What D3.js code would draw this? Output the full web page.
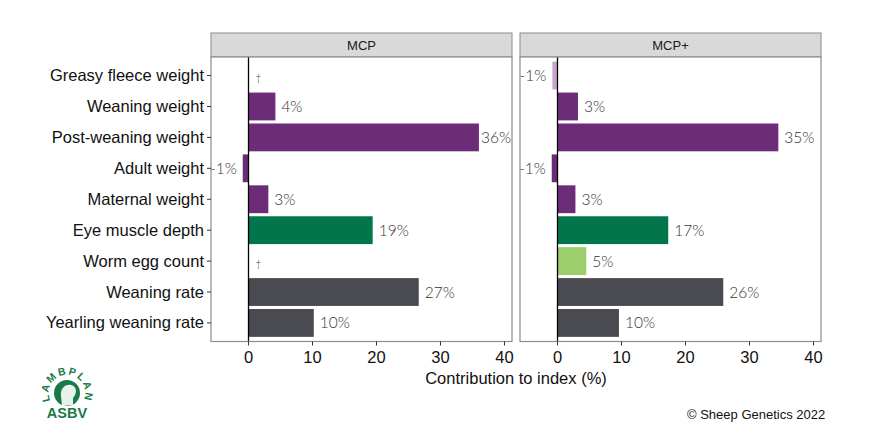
<!DOCTYPE html>
<html>
<head>
<meta charset="utf-8">
<script src="https://cdn.jsdelivr.net/npm/d3@7"></script>
<style>
  body { margin: 0; background: #fff; }
  text { font-family: "Liberation Sans", Arial, sans-serif; }
  .lab { font-family: Lato, sans-serif; font-weight: 300; }
</style>
</head>
<body>
<svg id="chart" width="887" height="448"></svg>
<script>
// chart data
const traits = ["Greasy fleece weight", "Weaning weight", "Post-weaning weight", "Adult weight",
  "Maternal weight", "Eye muscle depth", "Worm egg count", "Weaning rate", "Yearling weaning rate"]
const panels = ["MCP", "MCP+"]
const mcpValues = [0, 4.2, 36.0, -0.9, 3.1, 19.4, 0, 26.6, 10.2]
const mcpLabels = ["†", "4%", "36%", "-1%", "3%", "19%", "†", "27%", "10%"]
const mcpColors = ["#6d2c77", "#6d2c77", "#6d2c77", "#6d2c77", "#6d2c77", "#00764a", "#9ccf6b", "#4a4b50", "#4a4b50"]
const mcpPlusValues = [-0.8, 3.2, 34.5, -0.9, 2.8, 17.3, 4.5, 25.9, 9.6]
const mcpPlusLabels = ["-1%", "3%", "35%", "-1%", "3%", "17%", "5%", "26%", "10%"]
const mcpPlusColors = ["#c9a3c9", "#6d2c77", "#6d2c77", "#6d2c77", "#6d2c77", "#00764a", "#9ccf6b", "#4a4b50", "#4a4b50"]
const xTicks = [0, 10, 20, 30, 40]

const series = [
  {name: panels[0], values: mcpValues, labels: mcpLabels, colors: mcpColors},
  {name: panels[1], values: mcpPlusValues, labels: mcpPlusLabels, colors: mcpPlusColors}
]

const svg = d3.select("#chart")
const panelLeft = [211, 520]
const panelW = 301
const stripTop = 33, stripH = 24
const plotTop = stripTop + stripH, plotH = 284.5

let x = d3.scaleLinear().domain([-5.86, 41.17]).range([0, panelW])
// discrete axis with 0.6 step expansion each side (ggplot style)
let yIdx = d3.scaleLinear().domain([0.4, traits.length + 0.6]).range([0, plotH])
const yc = d => yIdx(traits.indexOf(d) + 1)
const step = yIdx(2) - yIdx(1)
const barH = step * 0.9

series.forEach((s, i) => {
  let g = svg.append("g").attr("transform", `translate(${panelLeft[i]},0)`)

  // strip
  g.append("rect").attr("x", 0).attr("y", stripTop).attr("width", panelW).attr("height", stripH)
    .attr("fill", "#d9d9d9").attr("stroke", "#8c8c8c").attr("stroke-width", 1)
  g.append("text").attr("x", panelW / 2).attr("y", stripTop + stripH / 2 + 4.5)
    .attr("text-anchor", "middle").attr("font-size", 13).attr("fill", "#1a1a1a").text(s.name)

  let p = g.append("g").attr("transform", `translate(0,${plotTop})`)
  p.append("rect").attr("width", panelW).attr("height", plotH).attr("fill", "#fff")

  // bars
  p.selectAll("rect.bar").data(traits).enter().append("rect").attr("class", "bar")
    .attr("x", (d, j) => x(Math.min(0, s.values[j])))
    .attr("width", (d, j) => Math.abs(x(s.values[j]) - x(0)))
    .attr("y", d => yc(d) - barH / 2)
    .attr("height", barH)
    .attr("fill", (d, j) => s.colors[j])

  // zero line
  p.append("line").attr("x1", x(0)).attr("x2", x(0)).attr("y1", 0).attr("y2", plotH)
    .attr("stroke", "#000").attr("stroke-width", 1.3)

  // value labels
  p.selectAll("text.lab").data(traits).enter().append("text").attr("class", "lab")
    .attr("x", (d, j) => s.labels[j] === "†" ? x(0) + 7 : s.values[j] < 0 ? x(s.values[j]) - 6 : x(s.values[j]) + 6)
    .attr("y", d => yc(d) + 5.5)
    .attr("text-anchor", (d, j) => s.values[j] < 0 ? "end" : "start")
    .attr("font-size", (d, j) => s.labels[j] === "†" ? 10 : 15.5)
    .attr("fill", "#333")
    .text((d, j) => s.labels[j])
    .each(function () {
      // keep labels inside the panel
      let bb = this.getBBox()
      if (bb.x + bb.width > panelW - 1) d3.select(this).attr("x", panelW - 1 - bb.width)
    })

  p.append("rect").attr("width", panelW).attr("height", plotH).attr("fill", "none")
    .attr("stroke", "#8c8c8c").attr("stroke-width", 1.2)

  // x axis
  let ax = p.append("g").attr("transform", `translate(0,${plotH})`)
  ax.selectAll("line").data(xTicks).enter().append("line")
    .attr("x1", d => x(d)).attr("x2", d => x(d)).attr("y1", 0).attr("y2", 4)
    .attr("stroke", "#333")
  ax.selectAll("text").data(xTicks).enter().append("text")
    .attr("x", d => x(d)).attr("y", 21).attr("text-anchor", "middle")
    .attr("font-size", 16.5).attr("fill", "#111").text(d => d)

  // y axis on first panel only
  if (i === 0) {
    let ay = p.append("g")
    ay.selectAll("line").data(traits).enter().append("line")
      .attr("x1", -4).attr("x2", 0).attr("y1", d => yc(d)).attr("y2", d => yc(d)).attr("stroke", "#333")
    ay.selectAll("text").data(traits).enter().append("text")
      .attr("x", -7).attr("y", d => yc(d) + 5.5).attr("text-anchor", "end")
      .attr("font-size", 16.5).attr("fill", "#111").text(d => d)
  }
})

// axis title
svg.append("text").attr("x", 516).attr("y", 384)
  .attr("text-anchor", "middle").attr("font-size", 16.5).attr("fill", "#111")
  .text("Contribution to index (%)")

// copyright
svg.append("text").attr("x", 687).attr("y", 419).attr("font-size", 13).attr("fill", "#111")
  .text("© Sheep Genetics 2022")

// LAMBPLAN ASBV logo
const green = "#1a7a47"
let logo = svg.append("g").attr("transform", "translate(67,393)")
logo.append("circle").attr("r", 13).attr("fill", green)
logo.append("path").attr("d", "M-5,13 L-6,3 C-7,-4 -2,-9 4,-8 C9,-7 10,-2 8,2 L6,5 L6,12 Z")
  .attr("fill", "#fff").attr("opacity", 0.9)
logo.append("path").attr("id", "arc").attr("d", "M-17.7,4.7 A18.3,18.3 0 1 1 17.7,4.7").attr("fill", "none")
logo.append("text").attr("font-size", 10.5).attr("font-weight", "bold").attr("fill", green)
  .attr("letter-spacing", 1.8)
  .append("textPath").attr("href", "#arc").attr("startOffset", "50%").attr("text-anchor", "middle")
  .text("LAMBPLAN")
logo.append("text").attr("y", 25).attr("text-anchor", "middle").attr("font-size", 14.5)
  .attr("font-weight", "bold").attr("fill", green).text("ASBV")
</script>
</body>
</html>
